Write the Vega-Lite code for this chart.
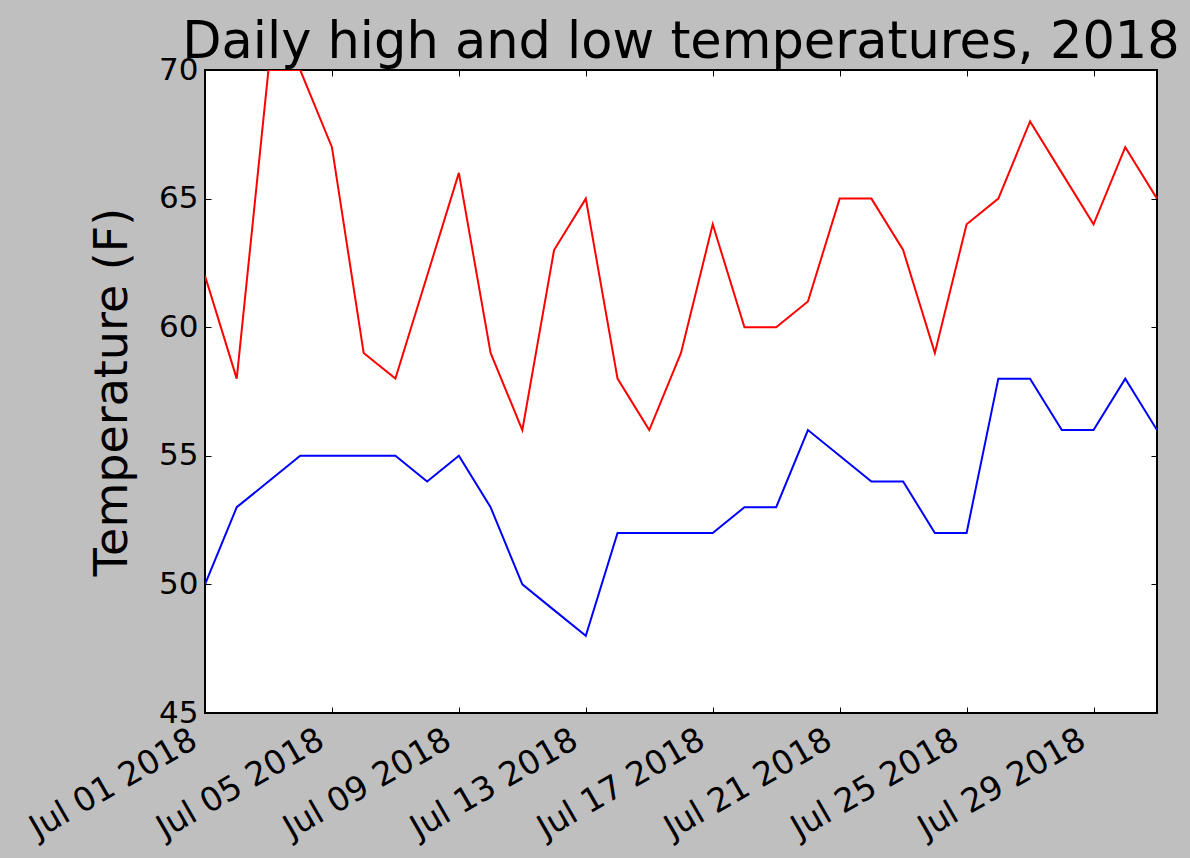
{
  "$schema": "https://vega.github.io/schema/vega-lite/v6.json",
  "autosize": "none",
  "width": 952,
  "height": 643,
  "padding": {"left": 205, "top": 70, "right": 33, "bottom": 145},
  "background": "#bfbfbf",
  "config": {
    "font": "DejaVu Sans",
    "view": {"fill": "white", "stroke": "black", "strokeWidth": 2},
    "axis": {"grid": false, "domain": false, "tickColor": "black", "tickSize": -6, "tickWidth": 1, "labelColor": "black", "labelFont": "DejaVu Sans", "labelFontSize": 31, "labelOverlap": false, "labelLimit": 0, "titleFont": "DejaVu Sans", "titleFontWeight": "normal", "titleColor": "black"}
  },
  "title": {"text": "Daily high and low temperatures, 2018", "fontSize": 51, "fontWeight": "normal", "font": "DejaVu Sans", "color": "black", "offset": -15, "anchor": "middle"},
  "data": {"values": [
    {"date": "2018-07-01", "high": 62, "low": 50},
    {"date": "2018-07-02", "high": 58, "low": 53},
    {"date": "2018-07-03", "high": 70, "low": 54},
    {"date": "2018-07-04", "high": 70, "low": 55},
    {"date": "2018-07-05", "high": 67, "low": 55},
    {"date": "2018-07-06", "high": 59, "low": 55},
    {"date": "2018-07-07", "high": 58, "low": 55},
    {"date": "2018-07-08", "high": 62, "low": 54},
    {"date": "2018-07-09", "high": 66, "low": 55},
    {"date": "2018-07-10", "high": 59, "low": 53},
    {"date": "2018-07-11", "high": 56, "low": 50},
    {"date": "2018-07-12", "high": 63, "low": 49},
    {"date": "2018-07-13", "high": 65, "low": 48},
    {"date": "2018-07-14", "high": 58, "low": 52},
    {"date": "2018-07-15", "high": 56, "low": 52},
    {"date": "2018-07-16", "high": 59, "low": 52},
    {"date": "2018-07-17", "high": 64, "low": 52},
    {"date": "2018-07-18", "high": 60, "low": 53},
    {"date": "2018-07-19", "high": 60, "low": 53},
    {"date": "2018-07-20", "high": 61, "low": 56},
    {"date": "2018-07-21", "high": 65, "low": 55},
    {"date": "2018-07-22", "high": 65, "low": 54},
    {"date": "2018-07-23", "high": 63, "low": 54},
    {"date": "2018-07-24", "high": 59, "low": 52},
    {"date": "2018-07-25", "high": 64, "low": 52},
    {"date": "2018-07-26", "high": 65, "low": 58},
    {"date": "2018-07-27", "high": 68, "low": 58},
    {"date": "2018-07-28", "high": 66, "low": 56},
    {"date": "2018-07-29", "high": 64, "low": 56},
    {"date": "2018-07-30", "high": 67, "low": 58},
    {"date": "2018-07-31", "high": 65, "low": 56}
  ]},
  "layer": [
    {
      "mark": {"type": "line", "color": "#ff0000", "strokeWidth": 2, "clip": true},
      "encoding": {
        "x": {"field": "date", "type": "temporal",
          "scale": {"type": "utc", "domain": [{"year": 2018, "month": 7, "date": 1, "utc": true}, {"year": 2018, "month": 7, "date": 31, "utc": true}], "nice": false},
          "axis": {"orient": "bottom", "title": null, "labelExpr": "utcFormat(datum.value, '%b %d %Y')", "labelFontSize": 33, "labelAngle": -30, "labelAlign": "right", "labelBaseline": "top", "labelPadding": 16, "labelOffset": -19,
            "values": [
              {"year": 2018, "month": 7, "date": 1, "utc": true},
              {"year": 2018, "month": 7, "date": 5, "utc": true},
              {"year": 2018, "month": 7, "date": 9, "utc": true},
              {"year": 2018, "month": 7, "date": 13, "utc": true},
              {"year": 2018, "month": 7, "date": 17, "utc": true},
              {"year": 2018, "month": 7, "date": 21, "utc": true},
              {"year": 2018, "month": 7, "date": 25, "utc": true},
              {"year": 2018, "month": 7, "date": 29, "utc": true}
            ]}},
        "y": {"field": "high", "type": "quantitative",
          "scale": {"domain": [45, 70], "nice": false, "zero": false},
          "axis": {"orient": "left", "title": "Temperature (F)", "titleFontSize": 46, "titlePadding": 22, "values": [45, 50, 55, 60, 65, 70], "labelPadding": 13}}
      }
    },
    {
      "mark": {"type": "line", "color": "#0000ff", "strokeWidth": 2, "clip": true},
      "encoding": {
        "x": {"field": "date", "type": "temporal",
          "axis": {"orient": "top", "title": null, "labels": false,
            "values": [
              {"year": 2018, "month": 7, "date": 1, "utc": true},
              {"year": 2018, "month": 7, "date": 5, "utc": true},
              {"year": 2018, "month": 7, "date": 9, "utc": true},
              {"year": 2018, "month": 7, "date": 13, "utc": true},
              {"year": 2018, "month": 7, "date": 17, "utc": true},
              {"year": 2018, "month": 7, "date": 21, "utc": true},
              {"year": 2018, "month": 7, "date": 25, "utc": true},
              {"year": 2018, "month": 7, "date": 29, "utc": true}
            ]}},
        "y": {"field": "low", "type": "quantitative",
          "axis": {"orient": "right", "title": null, "labels": false, "values": [45, 50, 55, 60, 65, 70]}}
      }
    }
  ],
  "resolve": {"axis": {"x": "independent", "y": "independent"}}
}
